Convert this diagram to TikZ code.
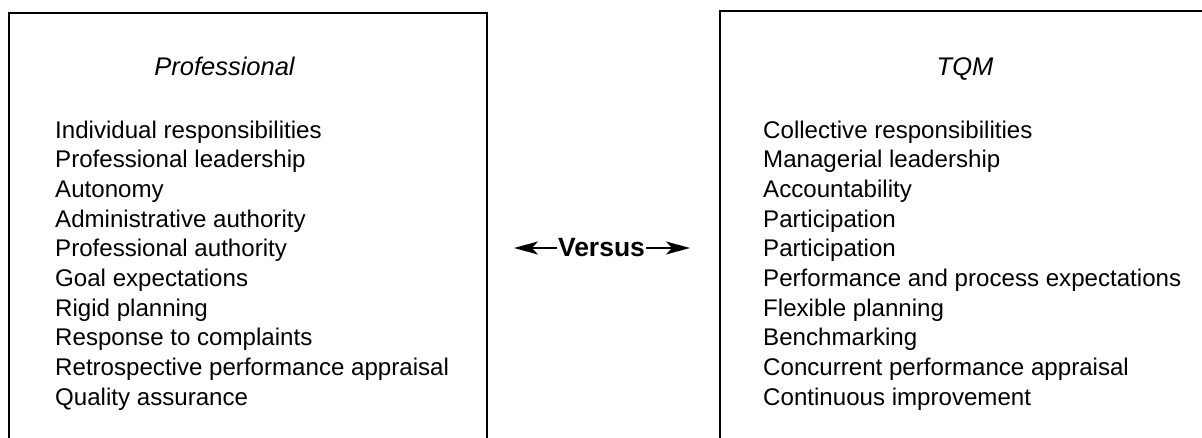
\documentclass[tikz,border=0pt]{standalone}
\usepackage{fontspec}
\setmainfont{Liberation Sans}
\usetikzlibrary{arrows.meta}
\begin{document}
\begin{tikzpicture}[x=1pt,y=-1pt,
  frame/.style={line width=2.2pt},
  title/.style={font=\fontsize{25.5}{30}\selectfont\itshape, anchor=base, inner sep=0pt},
  items/.style={font=\fontsize{24.1}{29.7}\selectfont, anchor=base west, align=left, inner sep=0pt},
  vs/.style={font=\fontsize{26.5}{30}\selectfont\bfseries, anchor=base, inner sep=0pt},
  arr/.style={line width=1.6pt, -{Stealth[length=24pt,width=13pt,inset=6pt]}}]
\useasboundingbox (0,0) rectangle (1202,438);
% boxes (open at the bottom)
\coordinate (lbl) at (9,440);
\coordinate (ltl) at (9,12.7);
\coordinate (ltr) at (487,12.7);
\coordinate (lbr) at (487,440);
\coordinate (rbl) at (720,440);
\coordinate (rtl) at (720,11);
\coordinate (rtr) at (1204,11);
\draw[frame] (lbl) -- (ltl) -- (ltr) -- (lbr);
\draw[frame] (rbl) -- (rtl) -- (rtr);
% titles
\node[title] (proftitle) at (224.5,76) {Professional};
\node[title] (tqmtitle) at (965,76) {TQM};
% lists (anchored at the baseline of the last line)
\node[items] (proflist) at (55,405.3) {Individual responsibilities\\
Professional leadership\\
Autonomy\\
Administrative authority\\
Professional authority\\
Goal expectations\\
Rigid planning\\
Response to complaints\\
Retrospective performance appraisal\\
Quality assurance};
\node[items] (tqmlist) at (763,405.3) {Collective responsibilities\\
Managerial leadership\\
Accountability\\
Participation\\
Participation\\
Performance and process expectations\\
Flexible planning\\
Benchmarking\\
Concurrent performance appraisal\\
Continuous improvement};
% versus
\node[vs] (versus) at (601.5,257) {Versus};
\coordinate (lstart) at (557,248);
\coordinate (rstart) at (646,248);
\coordinate (ltip) at (514,248);
\coordinate (rtip) at (690,248);
\draw[arr] (lstart) -- (ltip);
\draw[arr] (rstart) -- (rtip);
\end{tikzpicture}
\end{document}
